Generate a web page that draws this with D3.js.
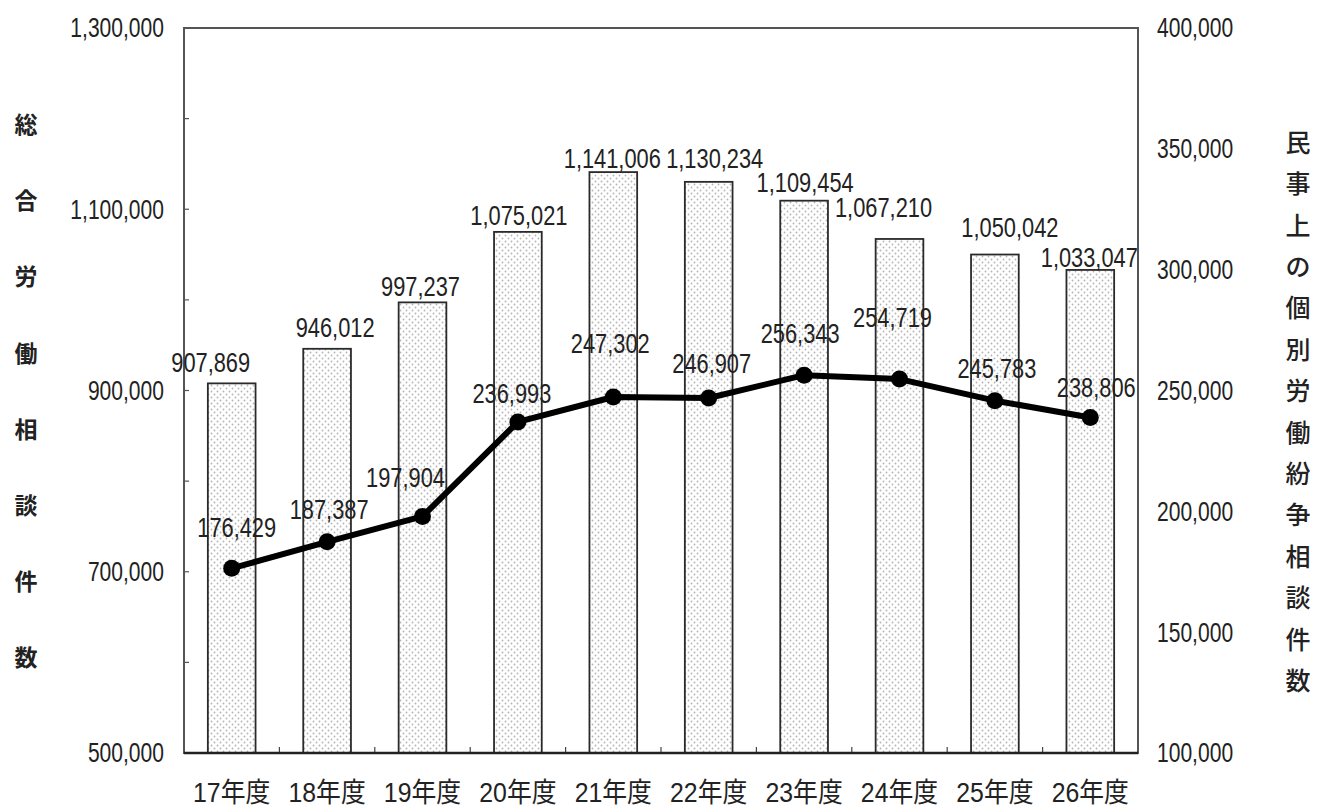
<!DOCTYPE html>
<html>
<head>
<meta charset="utf-8">
<script src="https://cdn.jsdelivr.net/npm/d3@7"></script>
<style>
  body { margin: 0; background: #fff; }
  svg text { font-family: "Liberation Sans", Arial, "Noto Sans CJK JP", sans-serif; fill: #222; }
  .ttl { font-family: "Noto Sans CJK JP", sans-serif; }
</style>
</head>
<body>
<div id="chart"></div>
<script>
// 年度
var years = ["17年度", "18年度", "19年度", "20年度", "21年度", "22年度", "23年度", "24年度", "25年度", "26年度"];
// 総合労働相談件数 (bars, left axis)
var totalCases = [907869, 946012, 997237, 1075021, 1141006, 1130234, 1109454, 1067210, 1050042, 1033047];
// 民事上の個別労働紛争相談件数 (line, right axis)
var civilCases = [176429, 187387, 197904, 236993, 247302, 246907, 256343, 254719, 245783, 238806];
var leftTicks = [500000, 700000, 900000, 1100000, 1300000];
var rightTicks = [100000, 150000, 200000, 250000, 300000, 350000, 400000];
var leftTitle = "総合労働相談件数";
var rightTitle = "民事上の個別労働紛争相談件数";

var W = 1317, H = 807;
var x0 = 184, x1 = 1138, y0 = 28, y1 = 753;
var squeeze = 0.78; // the original font is a narrow one

var svg = d3.select("#chart").append("svg")
  .attr("width", W)
  .attr("height", H);

// dotted fill like the excel pattern
var pat = svg.append("defs").append("pattern")
  .attr("id", "dots")
  .attr("patternUnits", "userSpaceOnUse")
  .attr("width", 6).attr("height", 6);
pat.append("rect").attr("width", 6).attr("height", 6).attr("fill", "#fff");
pat.append("circle").attr("cx", 1.5).attr("cy", 1.5).attr("r", 0.9).attr("fill", "#b4b4b4");
pat.append("circle").attr("cx", 4.5).attr("cy", 4.5).attr("r", 0.9).attr("fill", "#b4b4b4");

var x = d3.scaleBand().domain(years).range([x0, x1]).paddingInner(0.5).paddingOuter(0.25);
var band = d3.scaleBand().domain(years).range([x0, x1]);
var yL = d3.scaleLinear().domain([500000, 1300000]).range([y1, y0]);
var yR = d3.scaleLinear().domain([100000, 400000]).range([y1, y0]);
var fmt = d3.format(",");

function place(px, py, sx) {
  return "translate(" + px + "," + py + ") scale(" + sx + ",1)";
}

// frame
svg.append("rect")
  .attr("x", x0).attr("y", y0)
  .attr("width", x1 - x0).attr("height", y1 - y0)
  .attr("fill", "none").attr("stroke", "#555").attr("stroke-width", 2);

// minor inward ticks on left axis
svg.append("g").selectAll("line")
  .data(d3.range(600000, 1300000, 100000))
  .enter().append("line")
  .attr("x1", x0).attr("x2", x0 + 5)
  .attr("y1", function(d) { return yL(d); })
  .attr("y2", function(d) { return yL(d); })
  .attr("stroke", "#555").attr("stroke-width", 1.2);

// category ticks
svg.append("g").selectAll("line")
  .data(years.slice(1))
  .enter().append("line")
  .attr("x1", function(d) { return band(d); })
  .attr("x2", function(d) { return band(d); })
  .attr("y1", y1).attr("y2", y1 - 6)
  .attr("stroke", "#444").attr("stroke-width", 1.2);

// bars
svg.append("g").selectAll("rect")
  .data(totalCases)
  .enter().append("rect")
  .attr("x", function(d, i) { return x(years[i]); })
  .attr("y", function(d) { return yL(d); })
  .attr("width", x.bandwidth())
  .attr("height", function(d) { return y1 - yL(d); })
  .attr("fill", "url(#dots)")
  .attr("stroke", "#2a2a2a").attr("stroke-width", 1.8);

// bottom axis line drawn over bars
svg.append("line")
  .attr("x1", x0).attr("x2", x1).attr("y1", y1).attr("y2", y1)
  .attr("stroke", "#222").attr("stroke-width", 2.5);

// line
var cx = function(i) { return band(years[i]) + band.bandwidth() / 2; };
var line = d3.line()
  .x(function(d, i) { return cx(i); })
  .y(function(d) { return yR(d); });
svg.append("path")
  .datum(civilCases)
  .attr("d", line)
  .attr("fill", "none").attr("stroke", "#000").attr("stroke-width", 6)
  .attr("stroke-linejoin", "round");
svg.append("g").selectAll("circle")
  .data(civilCases)
  .enter().append("circle")
  .attr("cx", function(d, i) { return cx(i); })
  .attr("cy", function(d) { return yR(d); })
  .attr("r", 8.5).attr("fill", "#000");

// label nudges (hand-placed in the original)
var barNudge = [[-21, -21], [8, -22], [-2, -16], [1, -17], [-1, -14], [6, -24], [1, -18], [-16, -32], [15, -27], [-1, -13]];
var lineNudge = [[5, -41], [2, -33], [-17, -39], [-6, -29], [-3, -54], [3, -35], [-4, -42], [-7, -62], [2, -33], [6, -30]];

svg.append("g").selectAll("text")
  .data(totalCases)
  .enter().append("text")
  .attr("transform", function(d, i) { return place(cx(i) + barNudge[i][0], yL(d) + barNudge[i][1], squeeze); })
  .attr("dy", "0.35em")
  .attr("text-anchor", "middle")
  .style("font-size", "28px")
  .text(function(d) { return fmt(d); });

svg.append("g").selectAll("text")
  .data(civilCases)
  .enter().append("text")
  .attr("transform", function(d, i) { return place(cx(i) + lineNudge[i][0], yR(d) + lineNudge[i][1], squeeze); })
  .attr("dy", "0.35em")
  .attr("text-anchor", "middle")
  .style("font-size", "28px")
  .text(function(d) { return fmt(d); });

// axis labels
svg.append("g").selectAll("text")
  .data(leftTicks)
  .enter().append("text")
  .attr("transform", function(d) { return place(164, yL(d), squeeze); })
  .attr("dy", "0.35em")
  .attr("text-anchor", "end")
  .style("font-size", "27px")
  .text(function(d) { return fmt(d); });

svg.append("g").selectAll("text")
  .data(rightTicks)
  .enter().append("text")
  .attr("transform", function(d) { return place(1157, yR(d), squeeze); })
  .attr("dy", "0.35em")
  .style("font-size", "27px")
  .text(function(d) { return fmt(d); });

svg.append("g").selectAll("text")
  .data(years)
  .enter().append("text")
  .attr("transform", function(d, i) { return place(cx(i), 793, 0.92); })
  .attr("dy", "0.35em")
  .attr("text-anchor", "middle")
  .style("font-size", "27px")
  .text(function(d) { return d; });

// vertical titles, one char per row
svg.append("g").selectAll("text")
  .data(leftTitle.split(""))
  .enter().append("text")
  .classed("ttl", true)
  .attr("x", 26)
  .attr("y", function(d, i) { return 125 + i * 76.2; })
  .attr("dy", "0.35em")
  .attr("text-anchor", "middle")
  .style("font-size", "23px").style("font-weight", "bold")
  .text(function(d) { return d; });

svg.append("g").selectAll("text")
  .data(rightTitle.split(""))
  .enter().append("text")
  .classed("ttl", true)
  .attr("x", 1298)
  .attr("y", function(d, i) { return 143 + i * 41.4; })
  .attr("dy", "0.35em")
  .attr("text-anchor", "middle")
  .style("font-size", "25px").style("font-weight", "500")
  .text(function(d) { return d; });
</script>
</body>
</html>
